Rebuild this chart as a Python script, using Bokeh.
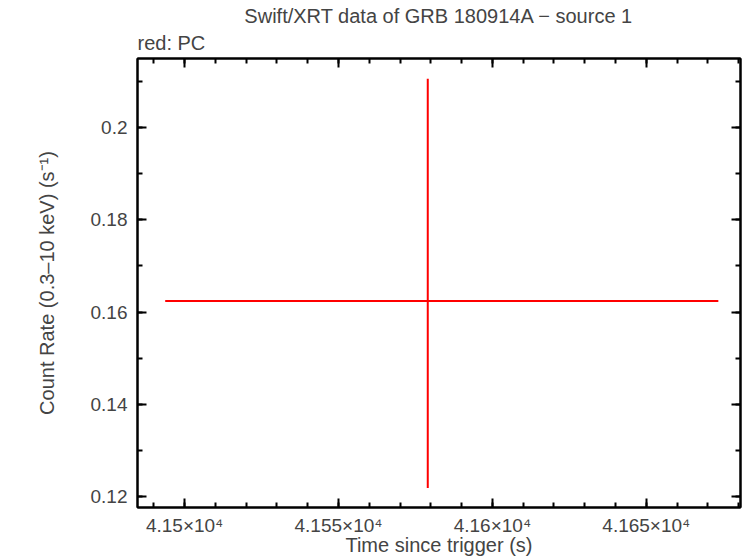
from bokeh.plotting import figure
from bokeh.models import (ColumnDataSource, Range1d, FixedTicker, LinearAxis, Title)
from bokeh.embed import file_html
from bokeh.resources import INLINE

# ---- data ----
time = [41579.0]          # s since trigger
time_pos = [94.4]         # + error (s)
time_neg = [-85.3]        # - error (s)
rate = [0.1624]           # count rate (s^-1)
rate_pos = [0.0481]
rate_neg = [-0.0405]

x_ticks = [41500, 41550, 41600, 41650]
x_tick_labels = ["4.15×10⁴", "4.155×10⁴", "4.16×10⁴", "4.165×10⁴"]
x_minor = [41490 + 10 * i for i in range(20)]
y_ticks = [0.12, 0.14, 0.16, 0.18, 0.20]
y_tick_labels = ["0.12", "0.14", "0.16", "0.18", "0.2"]
y_minor = [round(0.12 + 0.01 * i, 2) for i in range(10)]

title_text = "Swift/XRT data of GRB 180914A − source 1"
subtitle_text = "red: PC"
x_label = "Time since trigger (s)"
y_label = "Count Rate (0.3–10 keV) (s⁻¹)"

FONT = "Liberation Sans"
FS_TICK = "19px"
FS_TEXT = "20px"

src = ColumnDataSource(dict(
    t=time,
    t0=[a + b for a, b in zip(time, time_neg)],
    t1=[a + b for a, b in zip(time, time_pos)],
    r=rate,
    r0=[a + b for a, b in zip(rate, rate_neg)],
    r1=[a + b for a, b in zip(rate, rate_pos)],
))

p = figure(width=746, height=558, output_backend="svg", toolbar_location=None,
           x_range=Range1d(41484.7, 41680.6), y_range=Range1d(0.1177, 0.2149),
           min_border_left=137, min_border_right=6, min_border_top=58,
           min_border_bottom=51, x_axis_location=None, y_axis_location=None)
p.title = None
p.grid.visible = False
p.outline_line_color = "black"
p.outline_line_width = 2
p.background_fill_color = "white"
p.border_fill_color = "white"

p.segment(x0="t0", y0="r", x1="t1", y1="r", source=src, line_color="#ff0000", line_width=2)
p.segment(x0="t", y0="r0", x1="t", y1="r1", source=src, line_color="#ff0000", line_width=2)


def style_axis(ax):
    ax.axis_line_width = 2
    ax.major_tick_line_width = 2
    ax.minor_tick_line_width = 2
    ax.major_tick_in = 9
    ax.major_tick_out = 0
    ax.minor_tick_in = 5
    ax.minor_tick_out = 0
    ax.major_label_text_font = FONT
    ax.major_label_text_font_size = FS_TICK
    ax.axis_label_text_font = FONT
    ax.axis_label_text_font_style = "normal"
    ax.axis_label_text_font_size = FS_TEXT


xt = FixedTicker(ticks=x_ticks, minor_ticks=x_minor)
yt = FixedTicker(ticks=y_ticks, minor_ticks=y_minor)

xb = LinearAxis(ticker=xt, axis_label=x_label)
xb.major_label_overrides = {k: v for k, v in zip(x_ticks, x_tick_labels)}
style_axis(xb)
xb.major_label_standoff = 7
xb.axis_label_standoff = -5
p.add_layout(xb, "below")

yl = LinearAxis(ticker=yt, axis_label=y_label)
yl.major_label_overrides = {k: v for k, v in zip(y_ticks, y_tick_labels)}
style_axis(yl)
yl.major_label_standoff = 10
yl.axis_label_standoff = 30
p.add_layout(yl, "left")

# mirrored tick axes (no labels)
xa = LinearAxis(ticker=xt)
style_axis(xa)
xa.major_label_overrides = {k: "" for k in x_ticks}
xa.major_label_text_font_size = "1px"
xa.major_label_standoff = 0
p.add_layout(xa, "above")

yr = LinearAxis(ticker=yt)
style_axis(yr)
yr.major_label_overrides = {k: "" for k in y_ticks}
yr.major_label_text_font_size = "1px"
yr.major_label_standoff = 0
p.add_layout(yr, "right")

p.add_layout(Title(text=subtitle_text, align="left", text_font=FONT, text_font_size=FS_TEXT,
                   text_font_style="normal", standoff=10), "above")
p.add_layout(Title(text=title_text, align="center", text_font=FONT, text_font_size=FS_TEXT,
                   text_font_style="normal", standoff=-5), "above")

open("out.html", "w").write(file_html(p, INLINE))
